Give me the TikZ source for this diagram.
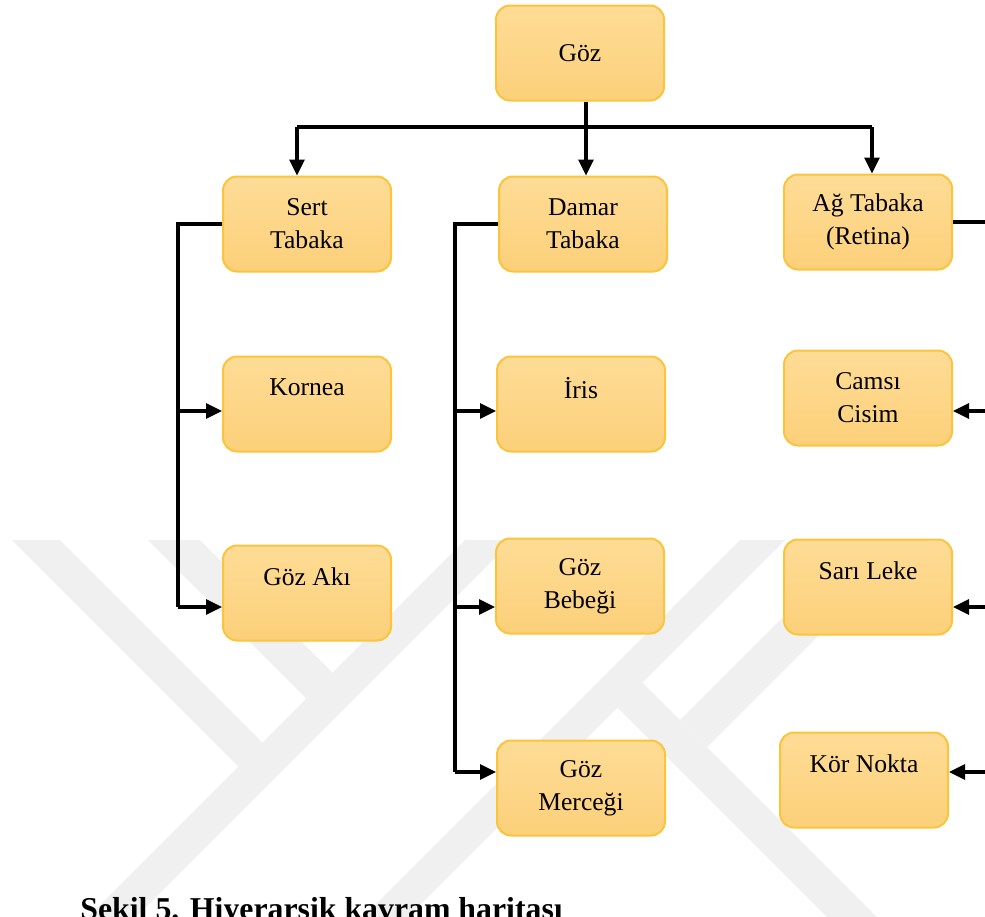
\documentclass[tikz,border=0pt]{standalone}
\usepackage{fontspec}
\setmainfont{Liberation Serif}
\usetikzlibrary{arrows.meta}

\definecolor{boxtop}{RGB}{254,220,150}
\definecolor{boxbot}{RGB}{252,208,122}
\definecolor{boxline}{RGB}{250,196,60}
\definecolor{wmark}{RGB}{240,240,240}

\begin{document}
\begin{tikzpicture}[x=0.5pt,y=-0.5pt,
  kbox/.style={rounded corners=7pt,top color=boxtop,bottom color=boxbot,
    draw=boxline,line width=1pt,minimum width=84pt,minimum height=47.5pt,
    align=center,font=\fontsize{12.8}{16.5}\selectfont},
  link/.style={line width=1.6pt},
  conn/.style={link,-{Triangle[length=8pt,width=7.5pt]}}]
\useasboundingbox (0,0) rectangle (985,916);

% background mark
\fill[wmark] (12,540) -- (60,540) -- (262.5,742.5) -- (238.5,766.5) -- cycle;
\fill[wmark] (148,540) -- (200,540) -- (332.5,672.5) -- (306.5,698.5) -- cycle;
\fill[wmark] (465,540) -- (513,540) -- (113,940) -- (65,940) -- cycle;
\fill[wmark] (740,540) -- (785,540) -- (345,980) -- (300,980) -- cycle;
\fill[wmark] (860,540) -- (914,540) -- (707,747) -- (680,720) -- cycle;
\fill[wmark] (642.5,682.5) -- (920,960) -- (870,960) -- (617.5,707.5) -- cycle;

% boxes
\node[kbox] (goz) at (580,53) {Göz};
\node[kbox] (sert) at (307,224) {Sert\\Tabaka};
\node[kbox] (damar) at (583,224) {Damar\\Tabaka};
\node[kbox] (ag) at (868,222) {Ağ Tabaka\\(Retina)};
\node[kbox] (kornea) at (307,404) {Kornea\\\mbox{}};
\node[kbox] (iris) at (581,404) {İris\\\mbox{}};
\node[kbox] (camsi) at (868,398) {Camsı\\Cisim};
\node[kbox] (gozaki) at (307,593) {Göz Akı\\\mbox{}};
\node[kbox] (bebek) at (580,586) {Göz\\Bebeği};
\node[kbox] (sari) at (868,587) {Sarı Leke\\\mbox{}};
\node[kbox] (mercek) at (581,788) {Göz\\Merceği};
\node[kbox] (kor) at (864,780) {Kör Nokta\\\mbox{}};

% rows and trunks
\coordinate (bar) at (586,127);
\coordinate (bl) at (297,127);
\coordinate (br) at (872,127);
\coordinate (r1) at (0,411);
\coordinate (r2) at (0,607);
\coordinate (r3) at (0,772);
\coordinate (tl) at (178,0);
\coordinate (tm) at (455,0);
\coordinate (tr) at (995,0);

\draw[conn] (goz.south -| bar) -- (damar.north -| bar);
\draw[link] (bl) -- (br);
\draw[conn] (bl) -- (sert.north -| bl);
\draw[conn] (br) -- (ag.north -| br);

\draw[link] (sert.west) -- (sert.west -| tl) -- (tl |- r2);
\draw[conn] (tl |- r1) -- (kornea.west |- r1);
\draw[conn] (tl |- r2) -- (gozaki.west |- r2);

\draw[link] (damar.west) -- (damar.west -| tm) -- (tm |- r3);
\draw[conn] (tm |- r1) -- (iris.west |- r1);
\draw[conn] (tm |- r2) -- (bebek.west |- r2);
\draw[conn] (tm |- r3) -- (mercek.west |- r3);

\draw[link] (ag.east) -- (ag.east -| tr) -- (tr |- r3);
\draw[conn] (tr |- r1) -- (camsi.east |- r1);
\draw[conn] (tr |- r2) -- (sari.east |- r2);
\draw[conn] (tr |- r3) -- (kor.east |- r3);

% caption
\node[anchor=base west,inner sep=0pt,font=\fontsize{15.9}{19}\selectfont\bfseries] (cap) at (80,919) {Şekil 5. Hiyerarşik kavram haritası};
\end{tikzpicture}
\end{document}
